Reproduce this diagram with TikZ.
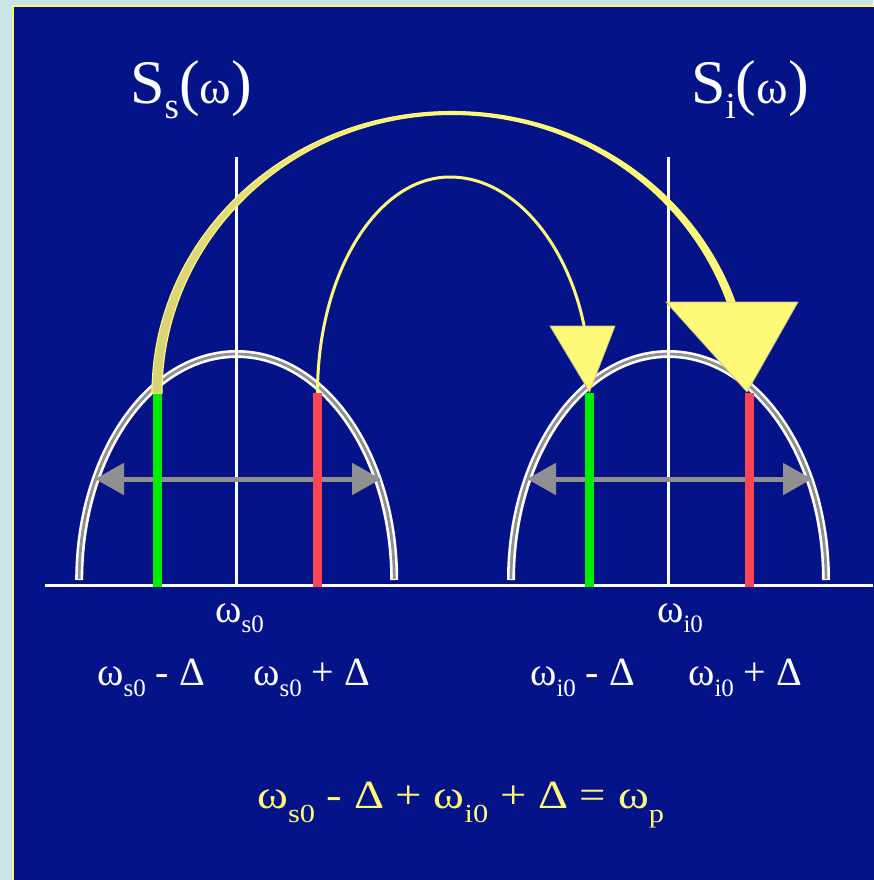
\documentclass[tikz,border=0pt]{standalone}
\usepackage{fontspec}
\setmainfont{Liberation Serif}
\usetikzlibrary{arrows.meta}
\definecolor{bgcyan}{HTML}{C8E6E8}
\definecolor{navy}{HTML}{041488}
\definecolor{yel}{HTML}{FFF97A}
\definecolor{yeldark}{HTML}{D8D278}
\definecolor{yeledge}{HTML}{C9C27A}
\definecolor{grn}{HTML}{00EE00}
\definecolor{rd}{HTML}{FF4455}
\definecolor{gry}{HTML}{909090}
\newcommand\lo[3]{{\fontsize{#1}{#1}\selectfont\raisebox{-#2}{#3}}}
\tikzset{
  axisline/.style={white, line width=3.2pt},
  domeout/.style={white, line width=8pt},
  domein/.style={gry, line width=2.8pt},
  bar/.style={line width=8.7pt},
  spread/.style={gry, line width=5pt, {Triangle[length=29pt,width=31pt]}-{Triangle[length=29pt,width=31pt]}},
  thinarc/.style={yel, line width=3pt},
  head/.style={fill=yel, draw=yeledge, line width=0.8pt, line join=miter},
  lab/.style={white, anchor=base west, inner sep=0pt, font=\fontsize{40}{40}\selectfont},
  title/.style={white, anchor=base west, inner sep=0pt, font=\fontsize{62}{62}\selectfont},
  eqlab/.style={yel, anchor=base west, inner sep=0pt, font=\fontsize{40}{40}\selectfont}
}
\begin{document}
\begin{tikzpicture}[x=1pt,y=-1pt]
\useasboundingbox (0,0) rectangle (873,880);
\fill[bgcyan] (0,0) rectangle (873,880);
\fill[navy] (13,6) rectangle (880,890);
\draw[yel, line width=1.6pt] (13,890) -- (13,6) -- (880,6);

% key points
\coordinate (gs) at (157.2,393);
\coordinate (rs) at (317.5,393);
\coordinate (gi) at (589.5,393);
\coordinate (ri) at (749.5,393);
\coordinate (gsb) at (157.2,587);
\coordinate (rsb) at (317.5,587);
\coordinate (gib) at (589.5,587);
\coordinate (rib) at (749.5,587);
\coordinate (cs) at (236.7,157);
\coordinate (csb) at (236.7,585.5);
\coordinate (ci) at (668.5,157);
\coordinate (cib) at (668.5,585.5);
\coordinate (base0) at (45,585.5);
\coordinate (base1) at (873,585.5);

% domes
\foreach \c in {236.7,668.5}{
  \draw[domeout] (\c-157.5,580) .. controls (\c-157.5,455.2) and (\c-87,354) .. (\c,354)
     .. controls (\c+87,354) and (\c+157.5,455.2) .. (\c+157.5,580);
  \draw[domein] (\c-157.5,579) .. controls (\c-157.5,455.2) and (\c-87,354) .. (\c,354)
     .. controls (\c+87,354) and (\c+157.5,455.2) .. (\c+157.5,579);
}

% axes
\draw[axisline] (cs) -- (csb);
\draw[axisline] (ci) -- (cib);
\draw[axisline] (base0) -- (base1);

% spreads
\coordinate (asl) at (95,479);
\coordinate (asr) at (381,479);
\coordinate (ail) at (527,479);
\coordinate (air) at (812,479);
\draw[spread] (asl) -- (asr);
\draw[spread] (ail) -- (air);

% bars
\draw[bar, grn] (gs) -- (gsb);
\draw[bar, rd] (rs) -- (rsb);
\draw[bar, grn] (gi) -- (gib);
\draw[bar, rd] (ri) -- (rib);

% thick tapered arc  (green s -> red i)
\coordinate (tpk) at (452,113);
\begin{scope}
\clip (0,0) -- (873,0) -- (873,384) -- (452,384) -- (452,393.5) -- (0,393.5) -- cycle;
\path[draw=yel, line width=1.1pt, left color=yeldark, right color=yel, middle color=yel]
  (152,393.5) .. controls (152,237.5) and (286.3,111.5) .. (452,111.5)
  .. controls (617.1,111.5) and (751,237.5) .. (751,393)
  -- (743,393)
  .. controls (743,239.2) and (612.7,114.5) .. (452,114.5)
  .. controls (291.8,114.5) and (162,239.2) .. (162,393.5) -- cycle;
\end{scope}
\coordinate (bigtip) at (747,392);
\fill[head] (666,302) -- (798,302) -- (bigtip) -- cycle;

% thin arc  (red s -> green i)
\coordinate (npk) at (450,177);
\draw[thinarc] (rs) .. controls (317.5,273.7) and (376.8,177) .. (npk)
   .. controls (527,177) and (589.5,273.7) .. (589.5,380);
\coordinate (smalltip) at (589.5,392);
\fill[head] (550,326) -- (615,326) -- (smalltip) -- cycle;

% titles
\node[title] (tss) at (130,103) {S\lo{37}{15pt}{s}({\fontsize{48}{48}\selectfont ω})};
\node[title] (tsi) at (691,103) {S\lo{37}{15pt}{i}({\fontsize{48}{48}\selectfont ω})};

% labels
\node[lab] (ls0) at (215,622) {ω\lo{25}{10pt}{s0}};
\node[lab] (li0) at (657,622) {ω\lo{25}{10pt}{i0}};
\node[lab] (lsm) at (97,685) {ω\lo{25}{11pt}{s0} - Δ};
\node[lab] (lsp) at (253,685) {ω\lo{25}{11pt}{s0} + Δ};
\node[lab] (lim) at (530,685) {ω\lo{25}{11pt}{i0} - Δ};
\node[lab] (lip) at (688,685) {ω\lo{25}{11pt}{i0} + Δ};

% equation
\node[eqlab] (eqn) at (257,808) {\scalebox{1.17}[1]{ω\lo{26}{14pt}{s0} - Δ + ω\lo{26}{14pt}{i0} + Δ = ω\lo{26}{14pt}{p}}};
\end{tikzpicture}
\end{document}
